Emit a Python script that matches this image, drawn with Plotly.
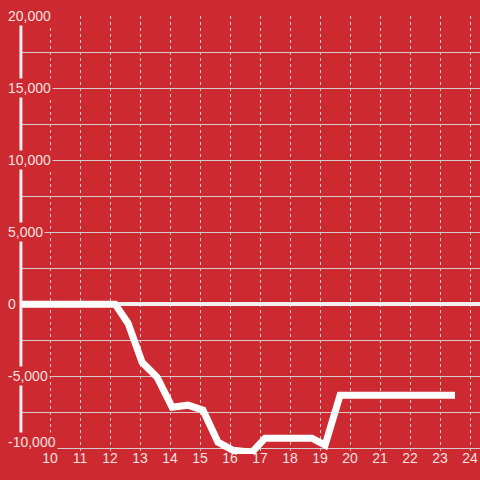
import plotly.graph_objects as go

# Data
hours = [9.0, 12.17, 12.6, 13.07, 13.57, 14.07, 14.6, 15.1, 15.6, 16.1, 16.73, 17.17, 18.73, 19.17, 19.67, 23.5]
values = [0, 0, -1320, -4030, -5070, -7150, -7010, -7360, -9580, -10140, -10280, -9300, -9300, -9790, -6320, -6320]

x_ticks = list(range(10, 25))
y_grid = [-10000, -7500, -5000, -2500, 0, 2500, 5000, 7500, 10000, 12500, 15000, 17500, 20000]
y_labels = [-10000, -5000, 0, 5000, 10000, 15000, 20000]

BG = "#cc2a30"
TXT = "rgba(255,255,255,0.88)"
GRID = "#d4cccc"
Y_MIN, Y_MAX = -10400, 20000
PX_PER_UNIT = 432 / 30000
plot_h = (Y_MAX - Y_MIN) * PX_PER_UNIT

fig = go.Figure()
fig.add_trace(go.Scatter(x=hours, y=values, mode="lines", cliponaxis=False,
                         line=dict(color="#ffffff", width=7), hoverinfo="skip"))

# cover the grid below the lowest gridline
fig.add_shape(type="rect", xref="paper", yref="y", x0=0, x1=1, y0=Y_MIN, y1=-10000,
              fillcolor=BG, line=dict(width=0), layer="between")
fig.add_shape(type="line", xref="paper", yref="y", x0=0.002, x1=0.002,
              y0=-10000, y1=19450, line=dict(color="#eeeeee", width=3), layer="above")

for v in y_labels:
    fig.add_annotation(x=0.0, xref="paper", xshift=-14, y=v, yref="y",
                       text=f"{v:,}", showarrow=False, xanchor="left",
                       yanchor="middle", yshift=(6 if v == -10000 else 0),
                       font=dict(family="Liberation Sans, Arial", size=14, color=TXT),
                       bgcolor=BG, borderpad=1)

fig.update_layout(
    width=480, height=480,
    margin=dict(l=20, r=0, t=16, b=480 - 16 - plot_h, autoexpand=False),
    paper_bgcolor=BG, plot_bgcolor=BG,
    showlegend=False,
    xaxis=dict(range=[9, 9 + 460 / 30], tickvals=x_ticks, ticktext=[str(t) for t in x_ticks],
               showgrid=True, gridcolor=GRID, gridwidth=1, griddash="dot",
               zeroline=False, showline=False, ticks="", automargin=False,
               ticklabelstandoff=-6,
               tickfont=dict(family="Liberation Sans, Arial", size=14, color=TXT)),
    yaxis=dict(range=[Y_MIN, Y_MAX], tickvals=y_grid, showticklabels=False,
               showgrid=True, gridcolor=GRID, gridwidth=1, automargin=False,
               zeroline=True, zerolinecolor="#f4f0f0", zerolinewidth=4,
               showline=False, ticks=""),
)

fig.write_html("out.html", config={"displayModeBar": False},
               post_script="document.body.style.margin='0';document.body.style.padding='0';")
